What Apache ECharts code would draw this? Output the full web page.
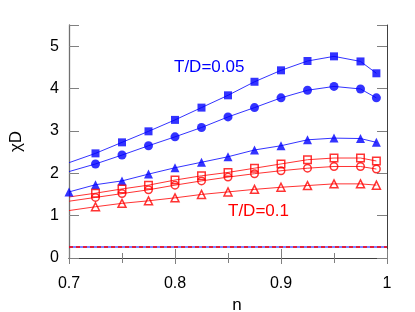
<!DOCTYPE html>
<html>
<head>
<meta charset="utf-8">
<script src="https://cdn.jsdelivr.net/npm/echarts@6/dist/echarts.min.js"></script>
<style>html,body{margin:0;padding:0;background:#fff}#c{width:415px;height:312px}</style>
</head>
<body>
<div id="c"></div>
<script>
// n values of the data points
const nVals = [0.725, 0.75, 0.775, 0.8, 0.825, 0.85, 0.875, 0.9, 0.925, 0.95, 0.975, 0.99];
const nValsTri = [0.7, 0.725, 0.75, 0.775, 0.8, 0.825, 0.85, 0.875, 0.9, 0.925, 0.95, 0.975, 0.99];

// T/D = 0.05 (blue, filled)
const blueSquare = [2.47, 2.73, 2.99, 3.26, 3.55, 3.84, 4.16, 4.43, 4.65, 4.76, 4.64, 4.36];
const blueCircle = [2.22, 2.43, 2.65, 2.86, 3.08, 3.33, 3.55, 3.78, 3.96, 4.05, 3.99, 3.78];
const blueTriangle = [1.56, 1.73, 1.82, 1.98, 2.13, 2.26, 2.39, 2.55, 2.65, 2.79, 2.83, 2.82, 2.73];

// T/D = 0.1 (red, open)
const redSquare = [1.53, 1.63, 1.72, 1.84, 1.94, 2.02, 2.12, 2.22, 2.32, 2.36, 2.36, 2.29];
const redCircle = [1.43, 1.52, 1.61, 1.72, 1.82, 1.91, 1.99, 2.06, 2.12, 2.16, 2.16, 2.10];
const redTriangle = [1.21, 1.29, 1.35, 1.42, 1.50, 1.56, 1.62, 1.67, 1.71, 1.75, 1.75, 1.72];

// where the fitted curves start at n = 0.7
const curveStartN = 0.7;
const blueSquareStart = 2.25;
const blueCircleStart = 2.04;
const redSquareStart = 1.44;
const redCircleStart = 1.34;
const redTriangleStart = 1.12;

// reference horizontal line
const refN = [0.7, 1.0];
const refVal = [0.26, 0.26];

// axis ticks
const xTicks = [0.7, 0.8, 0.9, 1.0];
const yTicks = [0, 1, 2, 3, 4, 5];

const BLUE = '#0000ff', RED = '#ff0000';
const FONT = 'Liberation Sans, Arial, Helvetica, sans-serif';

function pairs(xs, ys) { return xs.map((x, i) => [x, ys[i]]); }
function curve(start, xs, ys) { return (start == null ? [] : [[curveStartN, start]]).concat(pairs(xs, ys)); }

function lineSeries(data, color) {
  return { type: 'line', data: data, symbol: 'none', smooth: false, silent: true,
    lineStyle: { color: color, width: 1, opacity: 0.8 }, z: 2 };
}
function markSeries(data, symbol, size, color, filled) {
  return { type: 'scatter', data: data, symbol: symbol, symbolSize: size, silent: true,
    itemStyle: filled ? { color: color } : { color: 'rgba(255,255,255,0)', borderColor: color, borderWidth: 1.5 }, z: 3 };
}

const chart = echarts.init(document.getElementById('c'), null, { renderer: 'canvas' });

const axisLineStyle = { color: '#404040', width: 1 };
const tickStyle = { color: '#808080', width: 1 };

chart.setOption({
  animation: false,
  backgroundColor: '#fff',
  textStyle: { fontFamily: FONT },
  grid: { left: 69, right: 28, top: 25, bottom: 54, containLabel: false, outerBoundsMode: 'none' },
  xAxis: [{
    type: 'value', min: 0.7, max: 1.0, interval: 0.1, position: 'bottom',
    name: 'n', nameLocation: 'middle', nameGap: 27,
    nameTextStyle: { fontSize: 17, color: '#000', fontFamily: FONT, padding: [0, 0, 0, 18] },
    axisLine: { show: true, lineStyle: axisLineStyle },
    axisTick: { show: true, inside: true, length: 9, lineStyle: tickStyle },
    minorTick: { show: true, splitNumber: 2, length: 5, lineStyle: tickStyle },
    splitLine: { show: false },
    axisLabel: { fontSize: 16, color: '#000', margin: 18, fontFamily: FONT,
      formatter: v => (xTicks.some(t => Math.abs(t - v) < 1e-9) ? (Math.abs(v - 1) < 1e-9 ? '1' : v.toFixed(1)) : '') }
  }, {
    type: 'value', min: 0.7, max: 1.0, interval: 0.1, position: 'top',
    axisLine: { show: true, lineStyle: axisLineStyle },
    axisTick: { show: true, inside: true, length: 6, lineStyle: tickStyle },
    minorTick: { show: true, splitNumber: 2, length: 5, lineStyle: tickStyle },
    splitLine: { show: false }, axisLabel: { show: false }
  }],
  yAxis: [{
    type: 'value', min: 0, max: 5.5, interval: 1, position: 'left',
    name: 'χD', nameLocation: 'middle', nameGap: 44, nameRotate: 90,
    nameTextStyle: { fontSize: 17, color: '#000', fontFamily: FONT },
    axisLine: { show: true, lineStyle: { color: '#707070', width: 1.3 } },
    axisTick: { show: true, inside: true, length: 10, lineStyle: tickStyle },
    splitLine: { show: false },
    axisLabel: { fontSize: 16, color: '#000', margin: 10, fontFamily: FONT,
      formatter: v => (yTicks.indexOf(v) >= 0 ? String(v) : '') }
  }, {
    type: 'value', min: 0, max: 5.5, interval: 1, position: 'right',
    axisLine: { show: true, lineStyle: axisLineStyle },
    axisTick: { show: true, inside: true, length: 10, lineStyle: tickStyle },
    splitLine: { show: false }, axisLabel: { show: false }
  }],
  series: [
    { type: 'line', data: pairs(refN, refVal), symbol: 'none', silent: true, lineStyle: { color: BLUE, width: 1.2 }, z: 1 },
    { type: 'line', data: pairs(refN, refVal), symbol: 'none', silent: true, lineStyle: { color: RED, width: 1.5, type: [4, 3] }, z: 1 },

    lineSeries(curve(blueSquareStart, nVals, blueSquare), BLUE),
    lineSeries(curve(blueCircleStart, nVals, blueCircle), BLUE),
    lineSeries(curve(null, nValsTri, blueTriangle), BLUE),
    lineSeries(curve(redSquareStart, nVals, redSquare), RED),
    lineSeries(curve(redCircleStart, nVals, redCircle), RED),
    lineSeries(curve(redTriangleStart, nVals, redTriangle), RED),

    markSeries(pairs(nVals, blueSquare), 'rect', 8, BLUE, true),
    markSeries(pairs(nVals, blueCircle), 'circle', 9, BLUE, true),
    markSeries(pairs(nValsTri, blueTriangle), 'triangle', 9, BLUE, true),
    markSeries(pairs(nVals, redCircle), 'circle', 7.5, RED, false),
    markSeries(pairs(nVals, redSquare), 'rect', 7.5, RED, false),
    markSeries(pairs(nVals, redTriangle), 'triangle', 8, RED, false)
  ],
  graphic: [
    { type: 'text', left: 174, top: 59, style: { text: 'T/D=0.05', fill: BLUE, font: '17px ' + FONT } },
    { type: 'text', left: 228, top: 203, style: { text: 'T/D=0.1', fill: RED, font: '17px ' + FONT } }
  ]
});
</script>
</body>
</html>
